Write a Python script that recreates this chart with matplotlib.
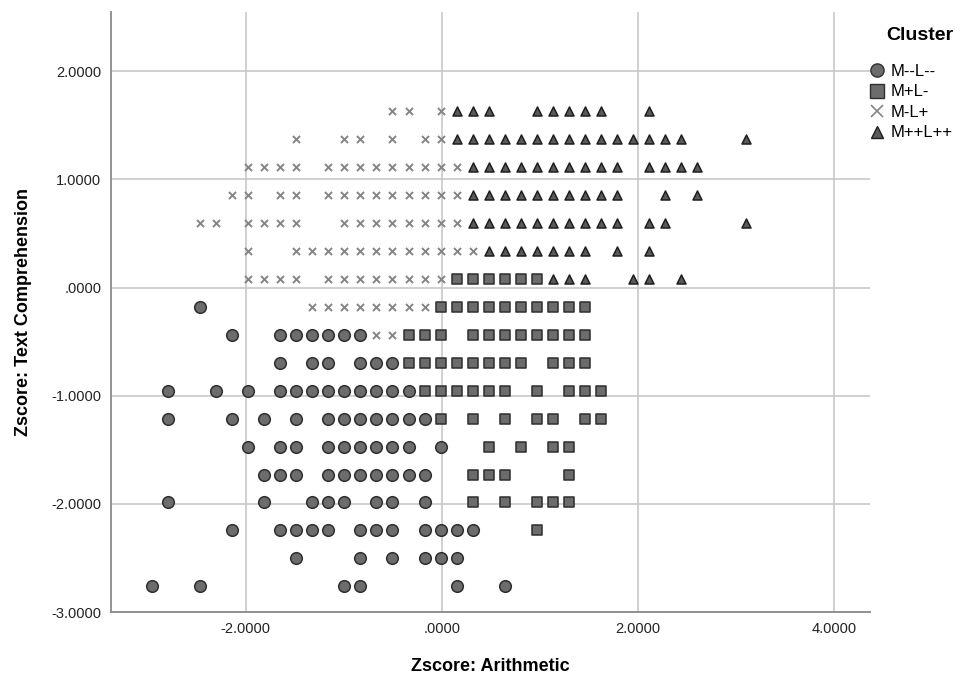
import matplotlib
matplotlib.use("Agg")
import matplotlib.pyplot as plt
from matplotlib.lines import Line2D
from matplotlib.ticker import FuncFormatter

plt.rcParams['font.family'] = ['Liberation Sans', 'DejaVu Sans']

# distinct z-score levels
arith_levels = [-2.959, -2.795, -2.631, -2.468, -2.304, -2.140, -1.976, -1.812,
                -1.649, -1.485, -1.321, -1.157, -0.993, -0.830, -0.666, -0.502,
                -0.338, -0.174, -0.011, 0.153, 0.317, 0.481, 0.645, 0.808,
                0.972, 1.136, 1.300, 1.464, 1.627, 1.791, 1.955, 2.119,
                2.283, 2.446, 2.610, 2.774, 2.938, 3.102]
text_levels = [1.633, 1.374, 1.116, 0.857, 0.599, 0.340, 0.081, -0.177, -0.436,
               -0.694, -0.953, -1.212, -1.470, -1.729, -1.987, -2.246, -2.505, -2.763]

# cluster members: text level index -> arithmetic level indices
c_mm = {7: [3],
        8: [5, 8, 9, 10, 11, 12, 13],
        9: [8, 10, 11, 13, 14, 15],
        10: [1, 4, 6, 8, 9, 10, 11, 12, 13, 14, 15, 16],
        11: [1, 5, 7, 9, 11, 12, 13, 14, 15, 16, 17],
        12: [6, 8, 9, 11, 12, 13, 14, 15, 16, 18],
        13: [7, 8, 9, 11, 12, 13, 14, 15, 16, 17],
        14: [1, 7, 10, 11, 12, 14, 15, 17],
        15: [5, 8, 9, 10, 11, 13, 14, 15, 17, 18, 19, 20],
        16: [9, 13, 15, 17, 18, 19],
        17: [0, 3, 12, 13, 19, 22]}
c_pm = {6: [19, 20, 21, 22, 23, 24],
        7: [18, 19, 20, 21, 22, 23, 24, 25, 26, 27],
        8: [16, 17, 18, 20, 21, 22, 23, 24, 25, 26, 27],
        9: [16, 17, 18, 19, 20, 21, 22, 23, 25, 26, 27],
        10: [17, 18, 19, 20, 21, 22, 24, 26, 27, 28],
        11: [18, 20, 22, 24, 25, 27, 28],
        12: [21, 23, 25, 26],
        13: [20, 21, 22, 26],
        14: [20, 22, 24, 25, 26],
        15: [24]}
c_mp = {0: [15, 16, 18],
        1: [9, 12, 13, 15, 17, 18],
        2: [6, 7, 8, 9, 11, 12, 13, 14, 15, 16, 17, 18, 19],
        3: [5, 6, 8, 9, 11, 12, 13, 14, 15, 16, 17, 18, 19],
        4: [3, 4, 6, 7, 8, 9, 12, 13, 14, 15, 16, 17, 18, 19],
        5: [6, 9, 10, 11, 12, 13, 14, 15, 16, 17, 18, 19, 20],
        6: [6, 7, 8, 9, 11, 12, 13, 14, 15, 16, 17, 18],
        7: [10, 11, 12, 13, 14, 15, 16, 17],
        8: [14, 15]}
c_pp = {0: [19, 20, 21, 24, 25, 26, 27, 28, 31],
        1: [19, 20, 21, 22, 23, 24, 25, 26, 27, 28, 29, 30, 31, 32, 33, 37],
        2: [20, 21, 22, 23, 24, 25, 26, 27, 28, 29, 31, 32, 33, 34],
        3: [20, 21, 22, 23, 24, 25, 26, 27, 28, 29, 32, 34],
        4: [20, 21, 22, 23, 24, 25, 26, 27, 28, 29, 31, 32, 37],
        5: [21, 22, 23, 24, 25, 26, 27, 29, 31],
        6: [25, 26, 27, 30, 31, 33]}

cluster_names = ['M--L--', 'M+L-', 'M-L+', 'M++L++']


def to_xy(members):
    xs, ys = [], []
    for r, cols in members.items():
        for c in cols:
            xs.append(arith_levels[c])
            ys.append(text_levels[r])
    return xs, ys


fig = plt.figure(figsize=(9.76, 6.8), dpi=100)
ax = fig.add_axes([0.1137, 0.1, 0.7777, 0.8824])

ax.grid(True, color='#c8c8c8', linewidth=1.2)
ax.set_axisbelow(True)

x, y = to_xy(c_mm)
ax.scatter(x, y, s=70, marker='o', facecolor='#6c6c6c', edgecolor='#2e2e2e', linewidth=1.1, zorder=3)
x, y = to_xy(c_pm)
ax.scatter(x, y, s=62, marker='s', facecolor='#6c6c6c', edgecolor='#2e2e2e', linewidth=1.1, zorder=3)
x, y = to_xy(c_mp)
ax.scatter(x, y, s=26, marker='x', color='#858585', linewidth=1.4, zorder=3)
x, y = to_xy(c_pp)
ax.scatter(x, y, s=42, marker='^', facecolor='#5a5a5a', edgecolor='#1e1e1e', linewidth=1.1, zorder=3)

ax.set_xlim(-3.374, 4.37)
ax.set_ylim(-3.0, 2.548)
ax.set_xticks([-2, 0, 2, 4])
ax.set_yticks([-3, -2, -1, 0, 1, 2])


def fmt(v, pos):
    s = f"{v:.4f}"
    if s in ("0.0000", "-0.0000"):
        s = ".0000"
    return s


ax.xaxis.set_major_formatter(FuncFormatter(fmt))
ax.yaxis.set_major_formatter(FuncFormatter(fmt))
ax.tick_params(length=0, labelsize=10.5, colors='#222222', pad=7)

for side in ['top', 'right']:
    ax.spines[side].set_visible(False)
for side in ['left', 'bottom']:
    ax.spines[side].set_color('#8a8a8a')
    ax.spines[side].set_linewidth(1.3)

ax.set_xlabel("Zscore: Arithmetic", fontsize=13, fontweight='bold', labelpad=16)
ax.set_ylabel("Zscore: Text Comprehension", fontsize=13, fontweight='bold', labelpad=14)

# legend: title drawn separately so its gap to the entries matches
fig.text(920 / 976, 1 - 35 / 680, 'Cluster', fontsize=14, fontweight='bold',
         ha='center', va='center')
handles = [
    Line2D([], [], linestyle='none', marker='o', markersize=9.5, markerfacecolor='#6c6c6c', markeredgecolor='#2e2e2e'),
    Line2D([], [], linestyle='none', marker='s', markersize=9.5, markerfacecolor='#6c6c6c', markeredgecolor='#2e2e2e'),
    Line2D([], [], linestyle='none', marker='x', markersize=9, color='#858585', markeredgewidth=1.2),
    Line2D([], [], linestyle='none', marker='^', markersize=9, markerfacecolor='#5a5a5a', markeredgecolor='#1e1e1e'),
]
fig.legend(handles, cluster_names, loc='upper left', bbox_to_anchor=(0.892, 0.906),
           frameon=False, fontsize=12, handlelength=0.8,
           handletextpad=0.4, labelspacing=0.33, borderaxespad=0, borderpad=0)

fig.savefig('out.png', dpi=100)
